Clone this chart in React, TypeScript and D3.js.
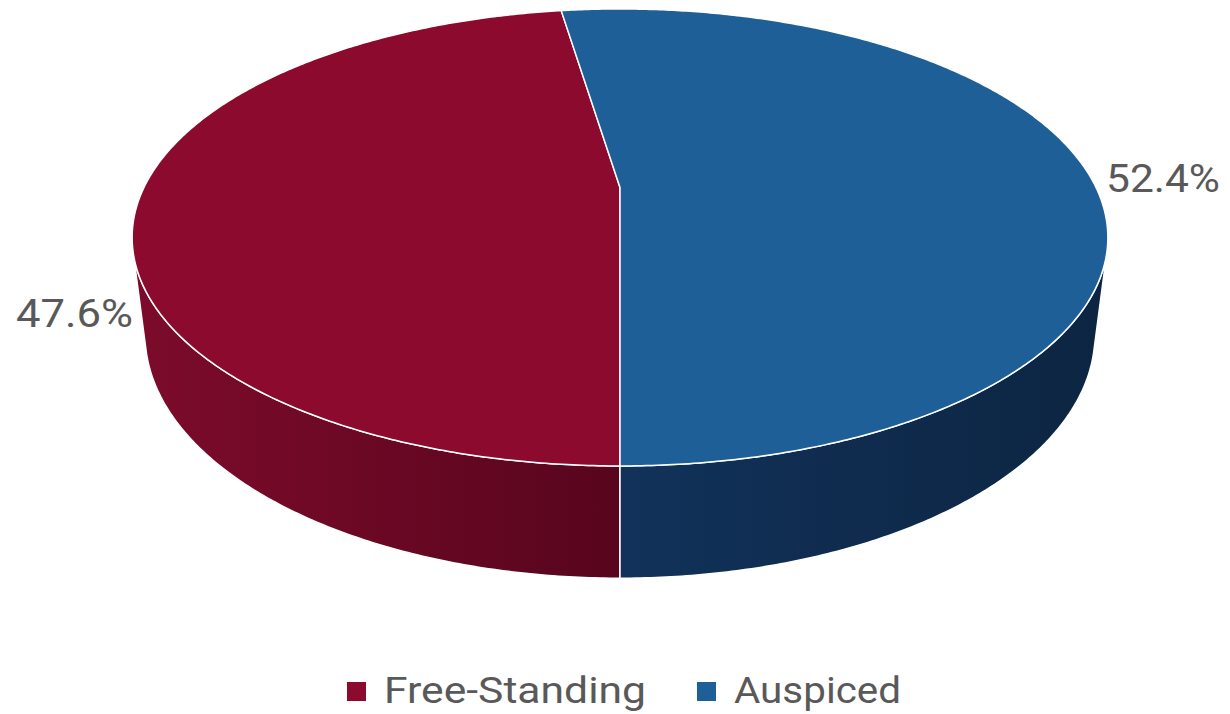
import React from "react";
import * as d3 from "d3";

const categories = ["Free-Standing", "Auspiced"];
const values = [47.6, 52.4];
const valueLabels = ["47.6%", "52.4%"];
const topColors = ["#8b0a2e", "#1f5f97"];
// side gradient colours: [left end, right end]
const sideLeft = ["#7c0b2b", "#12325a"];
const sideRight = ["#58051d", "#0c2542"];

const W = 1230;
const H = 714;

// perspective camera parameters (unit-radius pie)
const cx0 = 620;
const cy0 = 187.4;
const sinP = 0.457;
const cosP = Math.sqrt(1 - sinP * sinP);
const dist = 4.06;
const focal = 476 * dist;
const depth = 0.231;

function proj(theta: number, z: number, r = 1): [number, number] {
  const px = r * Math.sin(theta);
  const py = r * Math.cos(theta);
  const xc = px;
  const yc = sinP * py + cosP * z;
  const zc = cosP * py + dist - sinP * z;
  return [cx0 + (focal * xc) / zc, cy0 - (focal * yc) / zc];
}

function arcPts(a0: number, a1: number, z: number): [number, number][] {
  const n = Math.max(2, Math.ceil(Math.abs(a1 - a0) / (Math.PI / 360)));
  const pts: [number, number][] = [];
  for (let i = 0; i <= n; i++) pts.push(proj(a0 + ((a1 - a0) * i) / n, z));
  return pts;
}

export default function App() {
  const pie = d3
    .pie<number>()
    .sort(null)
    .startAngle(Math.PI)
    .endAngle(3 * Math.PI);
  const arcs = pie(values);

  const theta0 = Math.acos(-1 / (dist * cosP));
  const visA = theta0;
  const visB = 2 * Math.PI - theta0;

  const line = d3.line();

  const sides: { d: string; i: number }[] = [];
  arcs.forEach((a, i) => {
    for (const shift of [0, -2 * Math.PI]) {
      const s = Math.max(a.startAngle + shift, visA);
      const e = Math.min(a.endAngle + shift, visB);
      if (e > s) {
        const top = arcPts(s, e, 0);
        const bot = arcPts(e, s, -depth);
        sides.push({ d: line([...top, ...bot])! + "Z", i });
      }
    }
  });

  const center = proj(0, 0, 0);
  const tops = arcs.map((a, i) => {
    const pts = arcPts(a.startAngle, a.endAngle, 0);
    return { d: line([center, ...pts])! + "Z", i };
  });

  const rightRim = proj(Math.PI / 2, 0);
  const leftRim = proj((3 * Math.PI) / 2, 0);

  const legendY = 703;
  const legendItems = [
    { x: 347, w: 262 },
    { x: 697, w: 167 },
  ];

  const font = "Roboto, 'Liberation Sans', sans-serif";

  return (
    <svg width={W} height={H} style={{ display: "block", position: "absolute", left: 0, top: 0 }}>
      <defs>
        {categories.map((c, i) => (
          <linearGradient
            key={c}
            id={`side${i}`}
            gradientUnits="userSpaceOnUse"
            x1={i === 0 ? leftRim[0] : cx0}
            y1={0}
            x2={i === 0 ? cx0 : rightRim[0]}
            y2={0}
          >
            <stop offset="0" stopColor={sideLeft[i]} />
            <stop offset="1" stopColor={sideRight[i]} />
          </linearGradient>
        ))}
      </defs>
      <rect width={W} height={H} fill="#ffffff" />
      {sides.map((s, k) => (
        <path key={"s" + k} d={s.d} fill={`url(#side${s.i})`} stroke="#ffffff" strokeWidth={1.5} strokeLinejoin="round" />
      ))}
      {tops.map((t) => (
        <path key={"t" + t.i} d={t.d} fill={topColors[t.i]} stroke="#ffffff" strokeWidth={1.5} strokeLinejoin="round" />
      ))}
      <text
        x={rightRim[0] + 10}
        y={192}
        fontFamily={font}
        fontSize={39}
        fill="#595959"
        textLength={114}
        lengthAdjust="spacingAndGlyphs"
      >
        {valueLabels[1]}
      </text>
      <text
        x={leftRim[0] - 11}
        y={327}
        textAnchor="end"
        fontFamily={font}
        fontSize={39}
        fill="#595959"
        textLength={117}
        lengthAdjust="spacingAndGlyphs"
      >
        {valueLabels[0]}
      </text>
      {categories.map((c, i) => (
        <g key={c}>
          <rect x={legendItems[i].x} y={legendY - 21} width={19} height={19} fill={topColors[i]} />
          <text
            x={legendItems[i].x + 37}
            y={legendY}
            fontFamily={font}
            fontSize={37}
            fill="#595959"
            textLength={legendItems[i].w}
            lengthAdjust="spacingAndGlyphs"
          >
            {c}
          </text>
        </g>
      ))}
    </svg>
  );
}
